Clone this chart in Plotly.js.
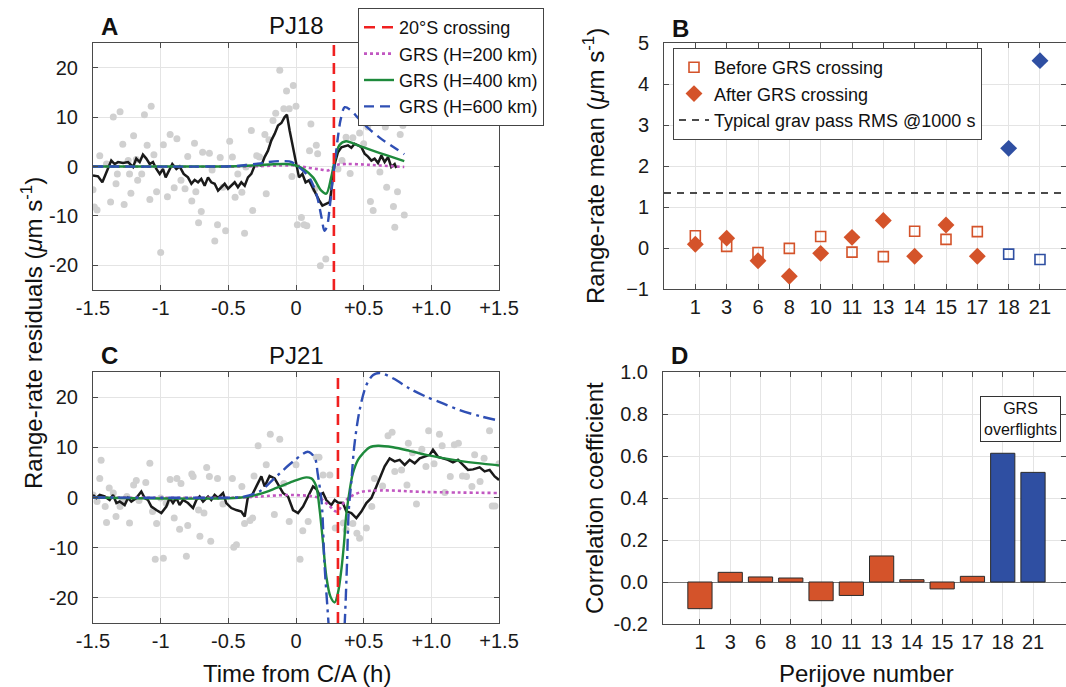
<!DOCTYPE html>
<html><head><meta charset="utf-8">
<script src="https://cdn.plot.ly/plotly-3.0.1.min.js"></script>
<style>html,body{margin:0;padding:0;background:#fff}#chart{width:1066px;height:687px}</style>
</head><body><div id="chart"></div>
<script>
// ---------------- Panel A (PJ18) ----------------
const crossA = 0.28;
const dotsAx = [-1.5,-1.49,-1.47,-1.45,-1.40,-1.37,-1.35,-1.33,-1.32,-1.30,-1.28,-1.27,-1.24,-1.23,-1.22,-1.20,-1.18,-1.17,-1.14,-1.12,-1.10,-1.08,-1.07,-1.05,-1.03,-1.00,-0.98,-0.95,-0.93,-0.90,-0.88,-0.85,-0.82,-0.80,-0.77,-0.75,-0.74,-0.72,-0.70,-0.69,-0.64,-0.62,-0.60,-0.58,-0.56,-0.54,-0.52,-0.49,-0.47,-0.45,-0.43,-0.40,-0.38,-0.37,-0.33,-0.32,-0.29,-0.27,-0.23,-0.22,-0.20,-0.17,-0.15,-0.12,-0.09,-0.07,-0.05,-0.02,0.00,-0.03,0.01,0.04,0.06,0.08,0.10,0.11,0.14,0.15,0.16,0.18,0.22,0.31,0.34,0.37,0.40,0.42,0.47,0.50,0.53,0.55,0.57,0.62,0.66,0.67,0.72,0.73,0.75,0.77,0.79,0.80];
const dotsAy = [-4.7,-8.2,-8.8,2.2,0.5,-7.2,10.0,-3.5,-1.5,11.1,4.5,-7.7,1.2,-1.5,-5.4,6.2,1.4,-2.8,-1.5,10.5,4.3,-6.7,12.2,2.4,-5.1,-17.4,4.4,-6.1,6.5,-4.3,5.6,-2.8,-4.5,2.0,-7.0,4.7,-5.1,-11.4,-9.1,2.9,2.7,-0.7,-15.1,-11.8,1.8,-4.2,-13.0,5.1,1.9,-6.2,-1.5,-5.2,-13.5,-0.1,7.3,-8.9,2.2,1.9,6.5,-5.5,5.4,9.3,10.8,19.5,11.7,15.3,11.7,16.4,12.2,-2.0,-11.8,-10.3,-11.8,-12.0,3.2,8.6,-4.5,4.3,2.6,-20.1,-18.7,-0.5,1.2,5.9,-1.4,5.8,6.8,4.6,8.0,-7.1,-8.9,-1.1,8.0,-4.2,-8.1,-12.3,-5.1,6.5,8.3,-9.8];
const smoothAx = [-1.5,-1.463,-1.431,-1.401,-1.365,-1.340,-1.315,-1.278,-1.241,-1.204,-1.180,-1.155,-1.131,-1.106,-1.081,-1.057,-1.032,-1.007,-0.983,-0.963,-0.938,-0.914,-0.884,-0.860,-0.830,-0.798,-0.773,-0.749,-0.724,-0.700,-0.675,-0.650,-0.626,-0.601,-0.576,-0.552,-0.527,-0.502,-0.478,-0.453,-0.429,-0.404,-0.379,-0.355,-0.330,-0.305,-0.281,-0.256,-0.232,-0.207,-0.182,-0.158,-0.133,-0.108,-0.084,-0.067,-0.047,-0.022,0.002,0.022,0.047,0.071,0.096,0.121,0.145,0.170,0.195,0.224,0.249,0.261,0.273,0.286,0.310,0.335,0.360,0.384,0.409,0.433,0.458,0.483,0.507,0.532,0.557,0.581,0.606,0.631,0.655,0.680,0.704,0.729,0.741];
const smoothAy = [-1.8,-2.0,-3.2,-1.1,1.2,0.5,0.9,0.7,0.9,-0.1,1.6,0.9,2.4,1.6,0.5,0.9,-0.5,-1.5,-0.5,-2.2,-0.8,0.5,-0.5,0,-1.5,-2.2,-3.5,-2.7,-3.2,-2.5,-3.9,-2.2,-3.2,-3.5,-4.9,-4.2,-3.5,-4.5,-3.9,-3.2,-4.2,-3.2,-3.9,-2.2,-1.5,0.2,0.5,0.2,1.9,3.2,5.3,6.6,8.3,8.8,10.0,10.5,7.3,3.9,0.5,-2.2,-1.5,-3.2,-2.8,-4.2,-5.5,-6.8,-7.9,-7.6,-7.2,-4.9,-1.5,0.5,2.9,3.9,4.1,4.3,3.8,4.6,4.3,3.9,2.6,2.0,1.2,1.6,0.7,2.2,0.9,1.9,-0.1,0.5,-0.3];
const m200Ax = [-1.5,-0.4,-0.1,0.0,0.1,0.18,0.236,0.27,0.3,0.37,0.5,0.62,0.80];
const m200Ay = [0,0,0.2,0.2,-0.3,-0.6,-0.8,-0.3,0.3,0.5,0.4,0.2,-0.1];
const m400Ax = [-1.5,-0.6,-0.4,-0.2,-0.08,0.0,0.06,0.126,0.187,0.224,0.26,0.286,0.32,0.37,0.43,0.495,0.62,0.80];
const m400Ay = [0,0,0.1,0.4,0.5,0.2,-0.6,-2.2,-4.9,-5.5,-2.2,1.2,4.3,5.1,4.6,3.9,2.7,1.1];
const m600Ax = [-1.5,-0.6,-0.45,-0.3,-0.2,-0.1,-0.03,0.0,0.05,0.1,0.13,0.16,0.19,0.21,0.23,0.25,0.27,0.29,0.31,0.33,0.36,0.40,0.46,0.54,0.62,0.70,0.80];
const m600Ay = [0,0,0.1,0.5,0.9,1.1,0.9,0.3,-0.8,-2.3,-4.0,-6.5,-10.5,-13.0,-12.0,-8.0,-3.0,1.5,6.0,9.5,12.0,11.5,9.8,7.6,5.8,4.3,2.5];

// ---------------- Panel C (PJ21) ----------------
const crossC = 0.31;
const dotsCx = [-1.50,-1.47,-1.45,-1.44,-1.41,-1.40,-1.38,-1.35,-1.33,-1.30,-1.28,-1.25,-1.23,-1.20,-1.18,-1.16,-1.11,-1.08,-1.06,-1.04,-1.03,-1.00,-0.98,-0.96,-0.93,-0.90,-0.88,-0.86,-0.85,-0.81,-0.80,-0.77,-0.76,-0.72,-0.71,-0.68,-0.66,-0.64,-0.63,-0.58,-0.54,-0.47,-0.46,-0.44,-0.40,-0.38,-0.34,-0.32,-0.31,-0.28,-0.22,-0.19,-0.16,-0.12,-0.09,-0.05,0.00,0.03,0.05,0.09,0.15,0.17,0.20,0.25,0.29,0.35,0.37,0.42,0.45,0.47,0.52,0.56,0.58,0.64,0.68,0.71,0.73,0.78,0.82,0.83,0.86,0.89,0.93,0.96,0.98,1.02,1.06,1.08,1.10,1.14,1.17,1.20,1.23,1.26,1.30,1.32,1.36,1.39,1.43,1.45,1.47,1.50];
const dotsCy = [0.5,-0.8,3.8,7.4,-1.8,-5.0,1.9,0.9,-3.8,-1.8,-0.5,0.2,-5.1,2.5,3.4,-0.6,3.0,6.8,-2.8,-12.3,-5.2,-0.1,-12.1,-1.1,3.6,-4.1,3.8,-6.3,2.8,-11.7,-5.6,4.7,4.2,-2.5,-7.7,-3.1,6.0,4.2,-8.7,3.8,-1.3,3.8,-9.9,-9.4,2.2,-5.2,-4.6,-4.1,4.3,10.3,6.5,12.6,-3.4,11.6,2.8,-4.8,6.5,-12.3,-6.6,-4.8,8.0,8.0,4.5,4.5,-6.1,-5.1,-6.4,-5.2,-7.1,-8.1,-6.1,-1.8,3.8,2.3,12.3,13.0,5.2,5.5,2.5,10.8,8.9,-1.3,9.6,6.2,13.3,6.7,12.6,10.3,1.0,4.2,10.5,10.8,4.3,4.2,2.2,8.5,3.2,7.8,13.3,-1.7,-1.7,6.7];
const smoothCx = [-1.500,-1.475,-1.450,-1.414,-1.377,-1.352,-1.327,-1.303,-1.266,-1.241,-1.217,-1.180,-1.143,-1.118,-1.094,-1.069,-1.032,-0.995,-0.958,-0.934,-0.909,-0.884,-0.860,-0.835,-0.798,-0.761,-0.736,-0.712,-0.687,-0.650,-0.626,-0.601,-0.576,-0.539,-0.515,-0.478,-0.441,-0.404,-0.379,-0.355,-0.330,-0.293,-0.256,-0.232,-0.195,-0.158,-0.121,-0.096,-0.059,-0.022,0.015,0.052,0.089,0.126,0.150,0.175,0.200,0.224,0.261,0.286,0.310,0.347,0.372,0.409,0.446,0.483,0.520,0.557,0.594,0.631,0.655,0.692,0.729,0.766,0.803,0.840,0.877,0.914,0.951,0.988,1.012,1.049,1.086,1.123,1.160,1.197,1.234,1.271,1.308,1.357,1.394,1.431,1.468,1.500];
const smoothCy = [0.5,-0.1,0.5,0.2,-0.5,0.5,-1.1,-0.8,-1.5,-0.1,-0.8,-0.1,1.2,-0.1,-0.5,-1.8,-2.5,-3.1,-1.8,-0.1,-1.1,-0.1,-1.5,-0.5,-1.1,-2.1,-0.5,0.2,-0.8,0.2,-0.5,0.5,-0.1,0.9,-1.1,-2.1,-2.5,-2.8,-3.8,0.2,0.2,2.2,4.2,2.2,4.3,3.8,1.9,0.9,0.2,-2.5,-3.1,-1.8,0.2,2.2,1.7,0.5,0.9,-0.5,-1.5,-0.5,-1.0,-1.1,-2.8,-3.1,-4.1,-2.8,-1.1,-0.1,2.2,4.8,6.2,7.8,7.2,7.5,6.5,7.5,6.8,7.8,8.1,8.5,9.5,8.1,7.8,7.5,7.0,7.5,6.5,5.5,5.6,6.0,5.2,5.5,4.2,3.5];
const m200Cx = [-1.5,-0.4,-0.27,-0.02,0.17,0.24,0.30,0.37,0.47,0.62,0.96,1.5];
const m200Cy = [0,0,0.2,0.5,-0.1,-1.5,-2.8,-0.5,1.0,1.4,1.1,0.9];
const m400Cx = [-1.5,-0.404,-0.27,-0.145,-0.022,0.076,0.113,0.126,0.15,0.175,0.2,0.224,0.254,0.286,0.31,0.335,0.355,0.37,0.397,0.42,0.458,0.495,0.544,0.606,0.717,0.84,0.963,1.21,1.5];
const m400Cy = [0,0,0.7,1.9,3.2,4.0,3.8,3.5,2.2,-2.5,-9.1,-15.7,-19.7,-20.9,-19.0,-14.4,-9.1,-3.8,1.5,4.8,7.5,8.8,10.0,10.3,10.0,9.3,8.5,7.3,6.4];
const m600Cx = [-1.5,-0.45,-0.4,-0.27,-0.145,-0.02,0.09,0.14,0.16,0.19,0.21,0.24,0.27,0.30,0.33,0.36,0.377,0.39,0.41,0.43,0.47,0.52,0.57,0.62,0.72,0.84,0.96,1.09,1.21,1.36,1.5];
const m600Cy = [0,0,0.1,1.2,4.2,7.2,9.1,7.8,4.8,-1.1,-13,-25,-38,-42,-38,-25,-13,-2.5,3.5,10.1,17.4,22.4,24.4,24.8,23.7,21.7,20.1,18.7,17.4,16.2,15.3];

const timeTickVals = [-1.5,-1,-0.5,0,0.5,1,1.5];
const timeTickText = ['-1.5','-1','-0.5','0','+0.5','+1.0','+1.5'];
const resTickVals = [-20,-10,0,10,20];
const resTickText = ['-20','-10','0','10','20'];

// ---------------- Panel B ----------------
const pjLabels = ['1','3','6','8','10','11','13','14','15','17','18','21'];
const overflightPJ = ['18','21'];
const beforeMean = [0.30,0.04,-0.11,-0.01,0.28,-0.10,-0.21,0.41,0.21,0.40,-0.15,-0.28];
const afterMean = [0.09,0.24,-0.31,-0.69,-0.13,0.26,0.67,-0.20,0.56,-0.20,2.43,4.57];
const rmsLevel = 1.34;
const meanTickVals = [-1,0,1,2,3,4,5];

// ---------------- Panel D ----------------
const corrCoef = [-0.127,0.046,0.024,0.019,-0.089,-0.064,0.124,0.011,-0.033,0.027,0.613,0.522];
const corrTickVals = [-0.2,0,0.2,0.4,0.6,0.8,1.0];
const corrTickText = ['-0.2','0.0','0.2','0.4','0.6','0.8','1.0'];

// ---------------- styling ----------------
const FONT = 'Liberation Sans, Arial, Helvetica, sans-serif';
const ORANGE = '#d4532a';
const BLUE = '#2f4fa2';
const GREY = '#d0d0d0';
const C200 = '#c157c1';
const C400 = '#1e8a3c';
const C600 = '#2f4fb4';
const RED = '#f02020';

const pos = pjLabels.map((_, i) => i + 1);
const isOver = pjLabels.map(l => overflightPJ.includes(l));
const pick = (arr, flag) => arr.filter((_, i) => isOver[i] === flag);

function timePanel(xa, ya, dx, dy, sx, sy, m2x, m2y, m4x, m4y, m6x, m6y, cross, dash6, legendOn) {
  return [
    {x: dx, y: dy, xaxis: xa, yaxis: ya, type: 'scatter', mode: 'markers',
     marker: {color: GREY, size: 7}, showlegend: false, hoverinfo: 'skip'},
    {x: sx, y: sy, xaxis: xa, yaxis: ya, type: 'scatter', mode: 'lines',
     line: {color: '#1a1a1a', width: 2.5}, showlegend: false},
    {x: m2x, y: m2y, xaxis: xa, yaxis: ya, type: 'scatter', mode: 'lines', name: 'GRS (H=200 km)',
     line: {color: C200, width: 2.6, dash: 'dot', shape: 'spline', smoothing: 1}, showlegend: legendOn, legendrank: 2},
    {x: m4x, y: m4y, xaxis: xa, yaxis: ya, type: 'scatter', mode: 'lines', name: 'GRS (H=400 km)',
     line: {color: C400, width: 2.4, shape: 'spline', smoothing: 0.9}, showlegend: legendOn, legendrank: 3},
    {x: m6x, y: m6y, xaxis: xa, yaxis: ya, type: 'scatter', mode: 'lines', name: 'GRS (H=600 km)',
     line: {color: C600, width: 2.4, dash: dash6, shape: 'spline', smoothing: 0.9}, showlegend: legendOn, legendrank: 4},
    {x: [cross, cross], y: [-25, 25], xaxis: xa, yaxis: ya, type: 'scatter', mode: 'lines', name: '20°S crossing',
     line: {color: RED, width: 2.6, dash: '11px,7px'}, showlegend: legendOn, legendrank: 1}
  ];
}

const traces = [].concat(
  timePanel('x', 'y', dotsAx, dotsAy, smoothAx, smoothAy, m200Ax, m200Ay, m400Ax, m400Ay, m600Ax, m600Ay, crossA, '10px,6px', true),
  timePanel('x3', 'y3', dotsCx, dotsCy, smoothCx, smoothCy, m200Cx, m200Cy, m400Cx, m400Cy, m600Cx, m600Cy, crossC, '12px,5px,3px,5px', false),
  [
    {x: [0, 13], y: [rmsLevel, rmsLevel], xaxis: 'x2', yaxis: 'y2', type: 'scatter', mode: 'lines',
     name: 'Typical grav pass RMS @1000 s', legend: 'legend2', legendrank: 3,
     line: {color: '#111', width: 1.6, dash: '7px,6px'}},
    {x: pick(pos, false), y: pick(beforeMean, false), xaxis: 'x2', yaxis: 'y2', type: 'scatter', mode: 'markers',
     name: 'Before GRS crossing', legend: 'legend2', legendrank: 1,
     marker: {symbol: 'square-open', size: 10, color: ORANGE, line: {width: 1.6, color: ORANGE}}},
    {x: pick(pos, false), y: pick(afterMean, false), xaxis: 'x2', yaxis: 'y2', type: 'scatter', mode: 'markers',
     name: 'After GRS crossing', legend: 'legend2', legendrank: 2,
     marker: {symbol: 'diamond', size: 13, color: ORANGE}},
    {x: pick(pos, true), y: pick(beforeMean, true), xaxis: 'x2', yaxis: 'y2', type: 'scatter', mode: 'markers',
     showlegend: false, marker: {symbol: 'square-open', size: 10, color: BLUE, line: {width: 1.6, color: BLUE}}},
    {x: pick(pos, true), y: pick(afterMean, true), xaxis: 'x2', yaxis: 'y2', type: 'scatter', mode: 'markers',
     showlegend: false, marker: {symbol: 'diamond', size: 13, color: BLUE}},
    {x: pos, y: corrCoef, xaxis: 'x4', yaxis: 'y4', type: 'bar', width: 0.8, showlegend: false,
     marker: {color: isOver.map(o => o ? BLUE : ORANGE), line: {color: '#2a2a2a', width: 1}}}
  ]
);

const W = 1066, H = 687;
const px = v => v / W;
const py = v => 1 - v / H;

const axBase = {
  showline: true, linecolor: '#4a4a4a', linewidth: 1, mirror: 'ticks',
  ticks: 'inside', ticklen: 5, tickcolor: '#4a4a4a', tickwidth: 1,
  showgrid: true, gridcolor: '#e4e4e4', gridwidth: 1, zeroline: false,
  tickfont: {family: FONT, size: 20, color: '#1a1a1a'}, fixedrange: true
};
const xTime = Object.assign({}, axBase, {range: [-1.5, 1.5], tickmode: 'array', tickvals: timeTickVals, ticktext: timeTickText, ticklabelstandoff: 0});
const yRes = Object.assign({}, axBase, {range: [-25, 25], tickmode: 'array', tickvals: resTickVals, ticktext: resTickText, ticklabelstandoff: 10});
const xPJ = Object.assign({}, axBase, {tickmode: 'array', tickvals: pos, ticktext: pjLabels, ticklabelstandoff: 0});

const legendFont = {family: FONT, size: 18, color: '#111'};

const layout = {
  width: W, height: H,
  margin: {l: 0, r: 0, t: 0, b: 0},
  paper_bgcolor: '#fff', plot_bgcolor: '#fff',
  font: {family: FONT, color: '#1a1a1a'},
  showlegend: true,
  xaxis: Object.assign({}, xTime, {domain: [px(93), px(499)], anchor: 'y'}),
  yaxis: Object.assign({}, yRes, {domain: [py(290), py(43)], anchor: 'x'}),
  xaxis3: Object.assign({}, xTime, {domain: [px(93), px(499)], anchor: 'y3'}),
  yaxis3: Object.assign({}, yRes, {domain: [py(623), py(372)], anchor: 'x3'}),
  xaxis2: Object.assign({}, xPJ, {domain: [px(664), 1], range: [0, 12.83], anchor: 'y2'}),
  yaxis2: Object.assign({}, axBase, {domain: [py(289), py(43)], range: [-1, 5], tickmode: 'array', tickvals: meanTickVals, ticklabelstandoff: 10, anchor: 'x2'}),
  xaxis4: Object.assign({}, xPJ, {domain: [px(663), 1], range: [-0.22, 13.09], anchor: 'y4'}),
  yaxis4: Object.assign({}, axBase, {domain: [py(624), py(372)], range: [-0.2, 1.0], tickmode: 'array', tickvals: corrTickVals, ticktext: corrTickText, ticklabelstandoff: 10, zeroline: true, zerolinecolor: '#7a7a7a', zerolinewidth: 1, anchor: 'x4'}),
  legend: {x: px(358), y: py(8), xanchor: 'left', yanchor: 'top', bgcolor: '#fff', bordercolor: '#444', borderwidth: 1,
           font: legendFont, itemwidth: 30, tracegroupgap: 0},
  legend2: {x: px(673), y: py(48), xanchor: 'left', yanchor: 'top', bgcolor: '#fff', bordercolor: '#444', borderwidth: 1,
           font: legendFont, itemwidth: 30, tracegroupgap: 0},
  bargap: 0,
  annotations: [
    {text: '<b>A</b>', x: px(109), y: py(27), font: {family: 'Liberation Sans Narrow, ' + FONT, size: 24, color: '#111'}},
    {text: '<b>B</b>', x: px(680), y: py(28), font: {family: 'Liberation Sans Narrow, ' + FONT, size: 24, color: '#111'}},
    {text: '<b>C</b>', x: px(109), y: py(356), font: {family: 'Liberation Sans Narrow, ' + FONT, size: 24, color: '#111'}},
    {text: '<b>D</b>', x: px(679), y: py(356), font: {family: 'Liberation Sans Narrow, ' + FONT, size: 24, color: '#111'}},
    {text: 'PJ18', x: px(296), y: py(25), font: {family: FONT, size: 24, color: '#111'}},
    {text: 'PJ21', x: px(296), y: py(355), font: {family: FONT, size: 24, color: '#111'}},
    {text: 'Range-rate residuals (<i>μ</i>m s<sup>-1</sup>)', x: px(32), y: py(333), textangle: -90, font: {family: FONT, size: 24, color: '#111'}},
    {text: 'Range-rate mean (<i>μ</i>m s<sup>-1</sup>)', x: px(594), y: py(166), textangle: -90, font: {family: FONT, size: 24, color: '#111'}},
    {text: 'Correlation coefficient', x: px(594), y: py(498), textangle: -90, font: {family: FONT, size: 24, color: '#111'}},
    {text: 'Time from C/A (h)', x: px(297), y: py(673), font: {family: FONT, size: 24, color: '#111'}},
    {text: 'Perijove number', x: px(866), y: py(673), font: {family: FONT, size: 24, color: '#111'}},
    {text: 'GRS<br>overflights', x: px(1020), y: py(419), font: {family: FONT, size: 16, color: '#111'},
     bordercolor: '#333', borderwidth: 1, borderpad: 3, bgcolor: '#fff'}
  ].map(a => Object.assign({xref: 'paper', yref: 'paper', showarrow: false, xanchor: 'center', yanchor: 'middle'}, a))
};

Plotly.newPlot('chart', traces, layout, {displayModeBar: false, staticPlot: true});
</script>
</body></html>
